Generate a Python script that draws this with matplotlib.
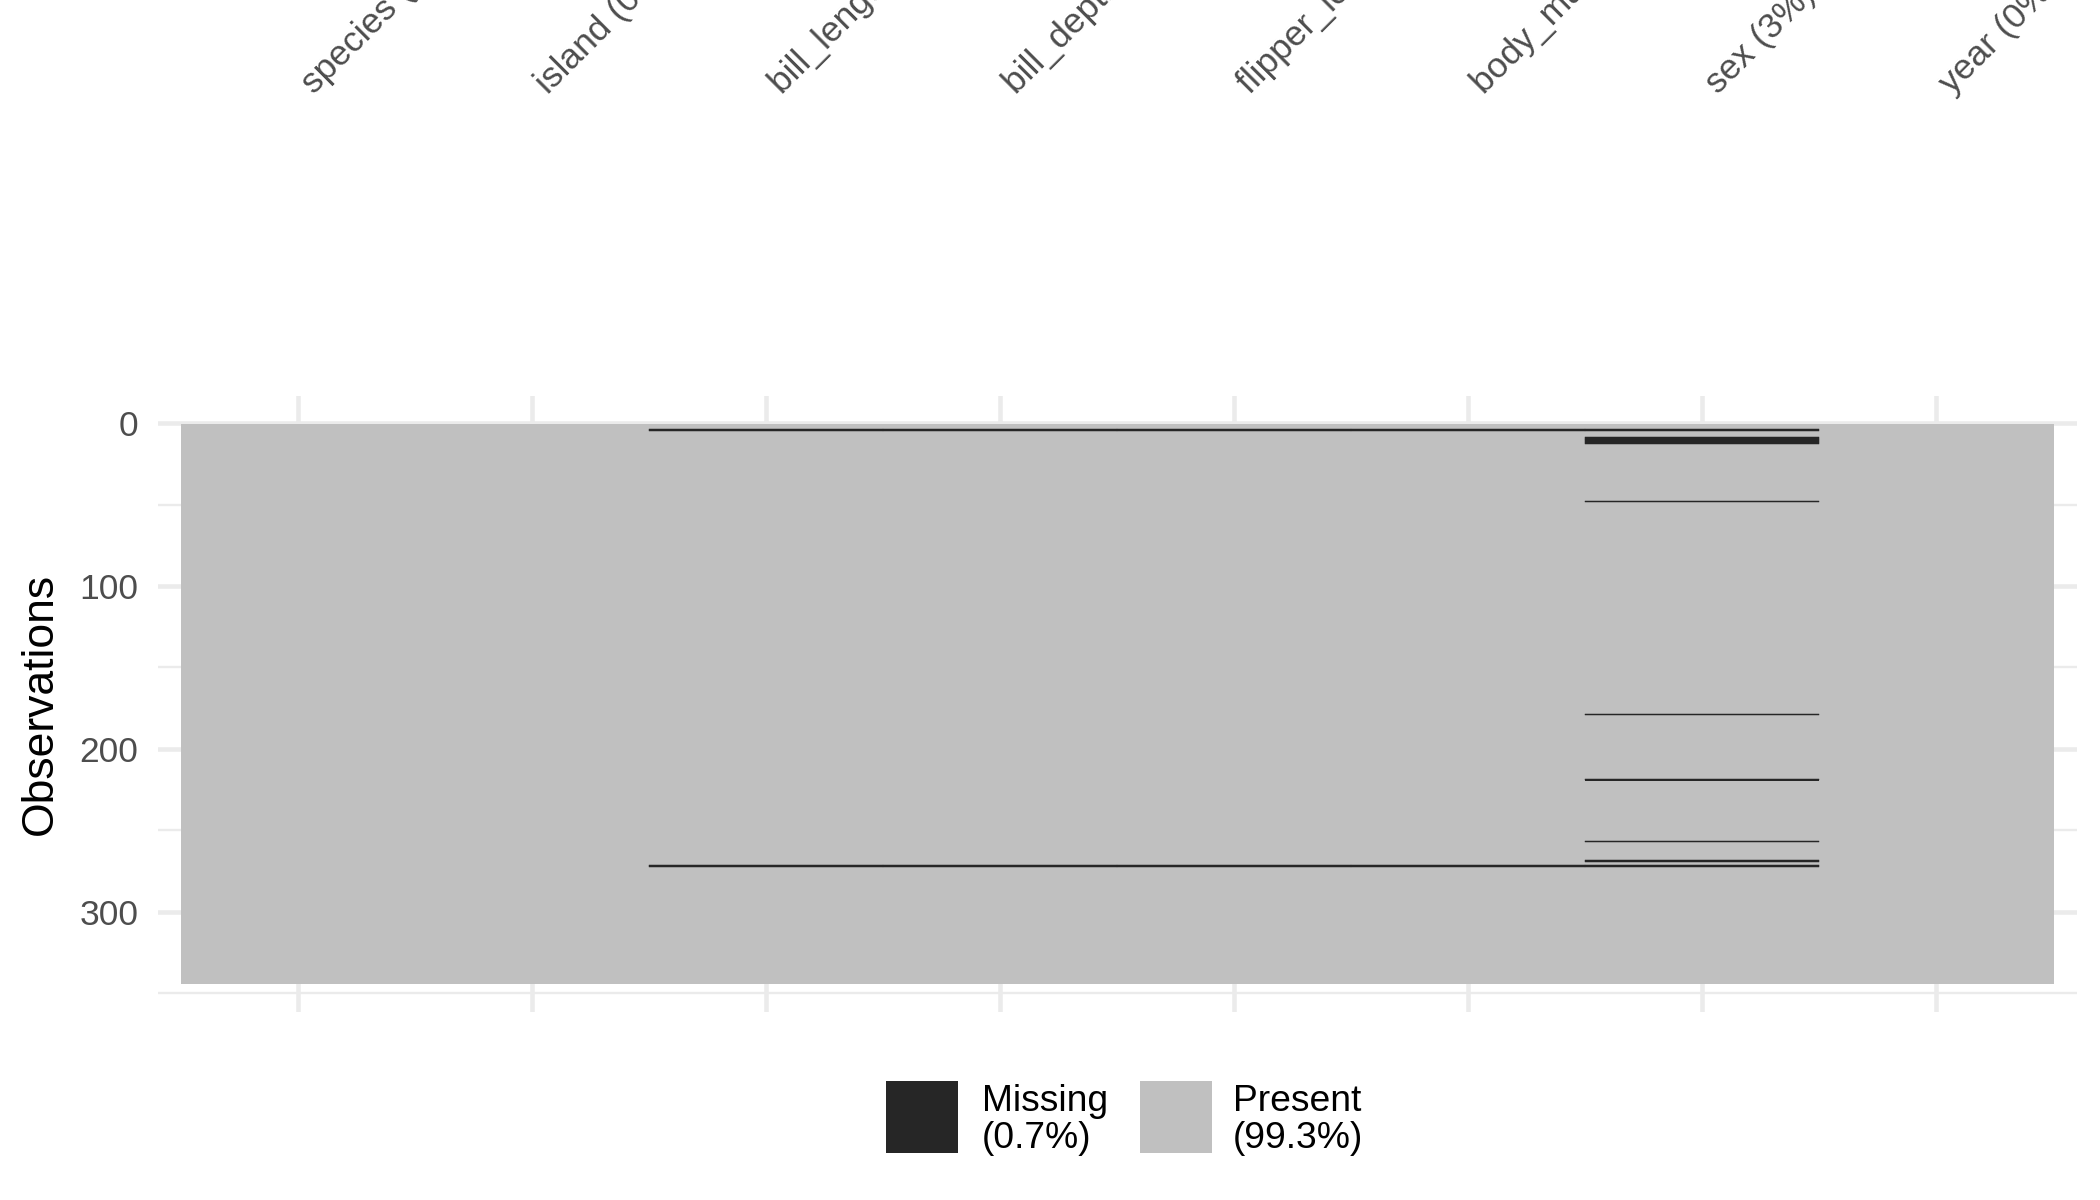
import numpy as np
import matplotlib
matplotlib.use("Agg")
import matplotlib.pyplot as plt
from matplotlib.patches import Rectangle
from matplotlib.transforms import blended_transform_factory

plt.rcParams['font.family'] = ['Liberation Sans', 'DejaVu Sans']

# penguins data: columns and the rows (1-indexed) that are NA
columns = ["species", "island", "bill_length_mm", "bill_depth_mm",
           "flipper_length_mm", "body_mass_g", "sex", "year"]
n_rows = 344
missing_rows = {
    "species": [],
    "island": [],
    "bill_length_mm": [4, 272],
    "bill_depth_mm": [4, 272],
    "flipper_length_mm": [4, 272],
    "body_mass_g": [4, 272],
    "sex": [4, 9, 10, 11, 12, 48, 179, 219, 257, 269, 272],
    "year": [],
}
col_pct_labels = ["0%", "0%", "0.6%", "0.6%", "0.6%", "0.6%", "3%", "0%"]
legend_labels = ["Missing\n(0.7%)", "Present\n(99.3%)"]

present_col = "#C0C0C0"
missing_col = "#262626"
grid_col = "#EBEBEB"

# build the missingness matrix (1 = missing)
mat = np.zeros((n_rows, len(columns)))
for j, c in enumerate(columns):
    for r in missing_rows[c]:
        mat[r - 1, j] = 1

fig = plt.figure(figsize=(21, 12), dpi=100)
ax = fig.add_axes([0.0752, 0.1567, 0.9138, 0.5133])

cmap = matplotlib.colors.ListedColormap([present_col, missing_col])
ax.imshow(mat, cmap=cmap, vmin=0, vmax=1, interpolation='nearest', aspect='auto',
          extent=(0.5, len(columns) + 0.5, n_rows + 0.5, 0.5), zorder=2)

# redraw the missing cells as tiles so thin rows stay crisp and dark
rows_idx, cols_idx = np.nonzero(mat)
ax.bar(cols_idx + 1, np.ones(len(rows_idx)), bottom=rows_idx + 0.5, width=1.0,
       color=missing_col, edgecolor=missing_col, linewidth=0.35, zorder=3)

ax.set_xlim(0.4, len(columns) + 0.6)
exp = n_rows * 0.05
ax.set_ylim(n_rows + 0.5 + exp, 0.5 - exp)

# gridlines like theme_minimal
ax.set_xticks(np.arange(1, len(columns) + 1))
ax.set_yticks([0, 100, 200, 300])
ax.set_yticks([50, 150, 250, 350], minor=True)
ax.set_xticklabels([])
ax.grid(True, which='major', color=grid_col, lw=3.3, zorder=0)
ax.grid(True, which='minor', axis='y', color=grid_col, lw=1.7, zorder=0)
ax.set_axisbelow(True)
ax.tick_params(axis='both', which='both', length=0)
ax.tick_params(axis='y', labelsize=25.5, labelcolor="#4D4D4D", pad=14)
for s in ax.spines.values():
    s.set_visible(False)

# rotated column labels at the top (cut by the figure edge, as in the original)
trans = blended_transform_factory(ax.transData, fig.transFigure)
for j, c in enumerate(columns):
    ax.text(j + 1 + 0.068, 0.921, f"{c} ({col_pct_labels[j]})", transform=trans,
            rotation=45, rotation_mode='anchor', ha='left', va='baseline',
            fontsize=25.5, color="#4D4D4D", clip_on=False)

fig.text(40 / 2100, 0.413, "Observations", rotation=90, ha='center', va='center',
         fontsize=32, color="black")

# legend drawn by hand (pixel layout of the original, 2100x1200)
W, H = 2100, 1200
box_left = [886, 1140]
text_left = [982, 1233]
box_size = 72
box_top = 1081
for lab, col, bx, tx in zip(legend_labels, [missing_col, present_col], box_left, text_left):
    fig.add_artist(Rectangle((bx / W, 1 - (box_top + box_size) / H), box_size / W,
                             box_size / H, transform=fig.transFigure,
                             facecolor=col, edgecolor='none'))
    fig.text(tx / W, 1 - 1120 / H, lab, ha='left', va='center', fontsize=26.8,
             color="black", linespacing=1.1)

fig.savefig("out.png", dpi=100)
